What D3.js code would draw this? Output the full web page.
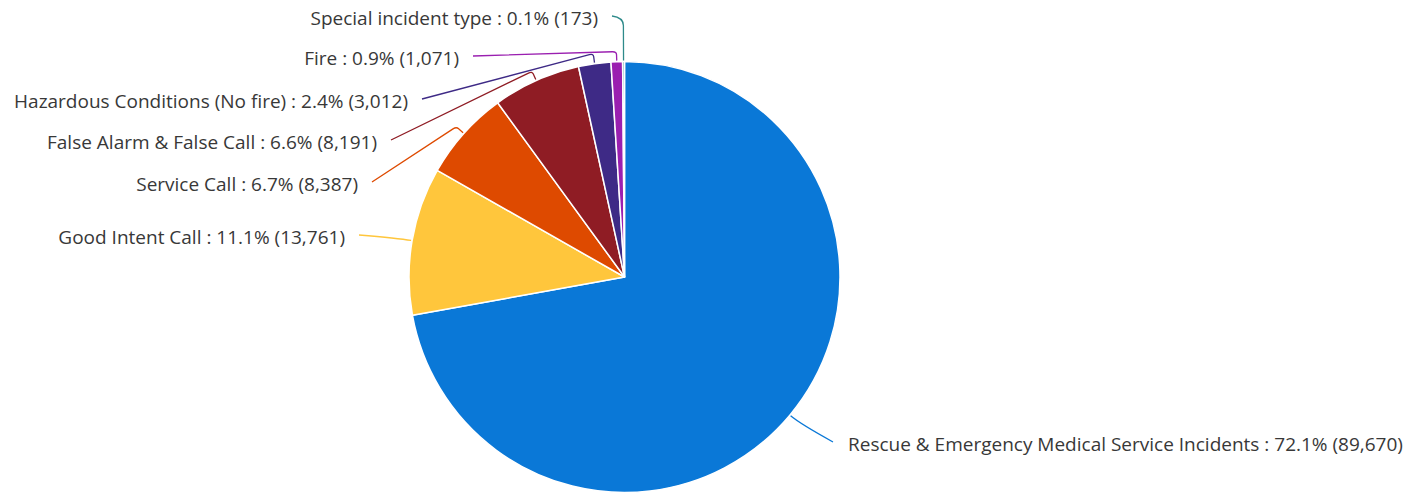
<!DOCTYPE html>
<html>
<head>
<meta charset="utf-8">
<script src="https://cdn.jsdelivr.net/npm/d3@7"></script>
<style>
  html, body { margin: 0; padding: 0; background: #ffffff; }
  svg { display: block; }
  text { font-family: "Open Sans", "Noto Sans", sans-serif; fill: #383838; }
</style>
</head>
<body>
<svg id="chart" width="1408" height="493"></svg>
<script>
// ---- data ----
const categories = [
  "Rescue & Emergency Medical Service Incidents",
  "Good Intent Call",
  "Service Call",
  "False Alarm & False Call",
  "Hazardous Conditions (No fire)",
  "Fire",
  "Special incident type"
];
const counts = [89670, 13761, 8387, 8191, 3012, 1071, 173];
const percentLabels = ["72.1%", "11.1%", "6.7%", "6.6%", "2.4%", "0.9%", "0.1%"];
const colors = ["#0A78D7", "#FFC63C", "#DE4A00", "#8F1C24", "#3E2A86", "#9A1FB0", "#2E8A8A"];

// ---- layout (label placement, not data) ----
const cx = 624.5, cy = 277, radius = 215.5;
const labelSide = ["right", "left", "left", "left", "left", "left", "left"];
const labelY = [444, 237, 184, 142, 101, 58, 18];
const labelEdgeX = [848, 345, 358, 377, 408, 459, 598];

const svg = d3.select("#chart");
const g = svg.append("g").attr("transform", `translate(${cx},${cy})`);

const pie = d3.pie().sort(null).value(d => d).startAngle(0).endAngle(2 * Math.PI);
const arcs = pie(counts);
const arc = d3.arc().innerRadius(0).outerRadius(radius);

g.selectAll("path.slice")
  .data(arcs)
  .enter().append("path")
  .attr("class", "slice")
  .attr("d", arc)
  .attr("fill", (d, i) => colors[i])
  .attr("stroke", "#ffffff")
  .attr("stroke-width", 1.5)
  .attr("stroke-linejoin", "round");

function pt(a, r) { return [Math.sin(a) * r, -Math.cos(a) * r]; }

// leader lines
const leader = svg.append("g").attr("transform", `translate(${cx},${cy})`);
arcs.forEach((d, i) => {
  const a = (d.startAngle + d.endAngle) / 2;
  const p0 = pt(a, radius + 1);
  const right = labelSide[i] === "right";
  const ex = (right ? labelEdgeX[i] - 15 : labelEdgeX[i] + 14) - cx;
  const ey = labelY[i] - 2 - cy;
  let path;
  if (i === 0 || i === 1) {
    const p1 = pt(a, radius + 14);
    path = `M${p0[0]},${p0[1]} Q${p1[0]},${p1[1]} ${ex},${ey}`;
  } else if (i === categories.length - 1) {
    const p1 = pt(a, radius + 36);
    const p2 = pt(a, radius + 44);
    path = `M${p0[0]},${p0[1]} L${p1[0]},${p1[1]} Q${p2[0]},${p2[1]} ${ex},${ey}`;
  } else {
    const pa = pt(a, radius + 7);
    const p1 = pt(a, radius + 10);
    const dx = ex - p1[0], dy = ey - p1[1];
    const len = Math.hypot(dx, dy);
    const pb = [p1[0] + dx / len * 4, p1[1] + dy / len * 4];
    path = `M${p0[0]},${p0[1]} L${pa[0]},${pa[1]} Q${p1[0]},${p1[1]} ${pb[0]},${pb[1]} L${ex},${ey}`;
  }
  leader.append("path")
    .attr("d", path)
    .attr("fill", "none")
    .attr("stroke", colors[i])
    .attr("stroke-width", 1.3);
});

// labels
const fmt = d3.format(",");
svg.selectAll("text.lbl")
  .data(arcs)
  .enter().append("text")
  .attr("class", "lbl")
  .attr("x", (d, i) => labelEdgeX[i])
  .attr("y", (d, i) => labelY[i])
  .attr("dy", "0.35em")
  .attr("text-anchor", (d, i) => labelSide[i] === "right" ? "start" : "end")
  .attr("font-size", 19)
  .text((d, i) => `${categories[i]} : ${percentLabels[i]} (${fmt(counts[i])})`);
</script>
</body>
</html>
